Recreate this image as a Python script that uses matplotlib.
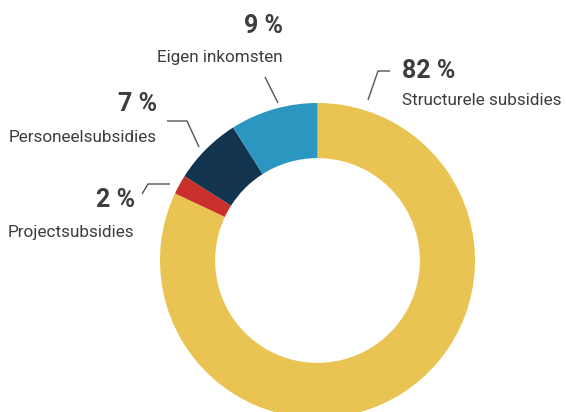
import matplotlib
matplotlib.use("Agg")
import matplotlib.pyplot as plt

categories = ["Structurele subsidies", "Projectsubsidies", "Personeelsubsidies", "Eigen inkomsten"]
values = [82, 2, 7, 9]
pct_labels = ["82 %", "2 %", "7 %", "9 %"]
colors = ["#E9C452", "#C9302C", "#12344F", "#2B96BF"]

plt.rcParams['font.family'] = ['Roboto', 'DejaVu Sans']

W, H = 566, 412
fig = plt.figure(figsize=(W / 100, H / 100), dpi=100)
ax = fig.add_axes([0, 0, 1, 1])

cx, cy, R = 317.5, H - 260.5, 157.5
ax.pie(values, colors=colors, startangle=90, counterclock=False,
       center=(cx, cy), radius=R, wedgeprops=dict(width=R * 0.35, linewidth=0),
       frame=True)
ax.set_xlim(0, W)
ax.set_ylim(0, H)
ax.set_aspect('equal')
ax.axis('off')

tc = "#3d3d3d"
lc = "#555555"

def Y(y):
    return H - y

# label positions in pixels from top-left: (pct x, pct baseline, label x, label baseline, ha)
lab = {
    0: (402, 78, 402, 105, 'left'),
    1: (135, 207, 134, 237, 'right'),
    2: (157, 111, 157, 142, 'right'),
    3: (283, 33, 283, 62, 'right'),
}
for i, (px, py, lx, ly, ha) in lab.items():
    ax.text(px, Y(py), pct_labels[i], ha=ha, va='baseline', fontsize=18,
            fontweight='bold', color=tc)
    ax.text(lx, Y(ly), categories[i], ha=ha, va='baseline', fontsize=12.3,
            color=tc)

lines = [
    [(368, 100), (378, 71), (390, 71)],
    [(265, 77), (278, 103)],
    [(167, 121), (187, 121), (199, 147)],
    [(142, 194), (148, 184), (170, 184)],
]
for pts in lines:
    xs = [p[0] for p in pts]
    ys = [Y(p[1]) for p in pts]
    ax.plot(xs, ys, color=lc, linewidth=1.0, solid_capstyle='butt')

fig.savefig("out.png", dpi=100)
